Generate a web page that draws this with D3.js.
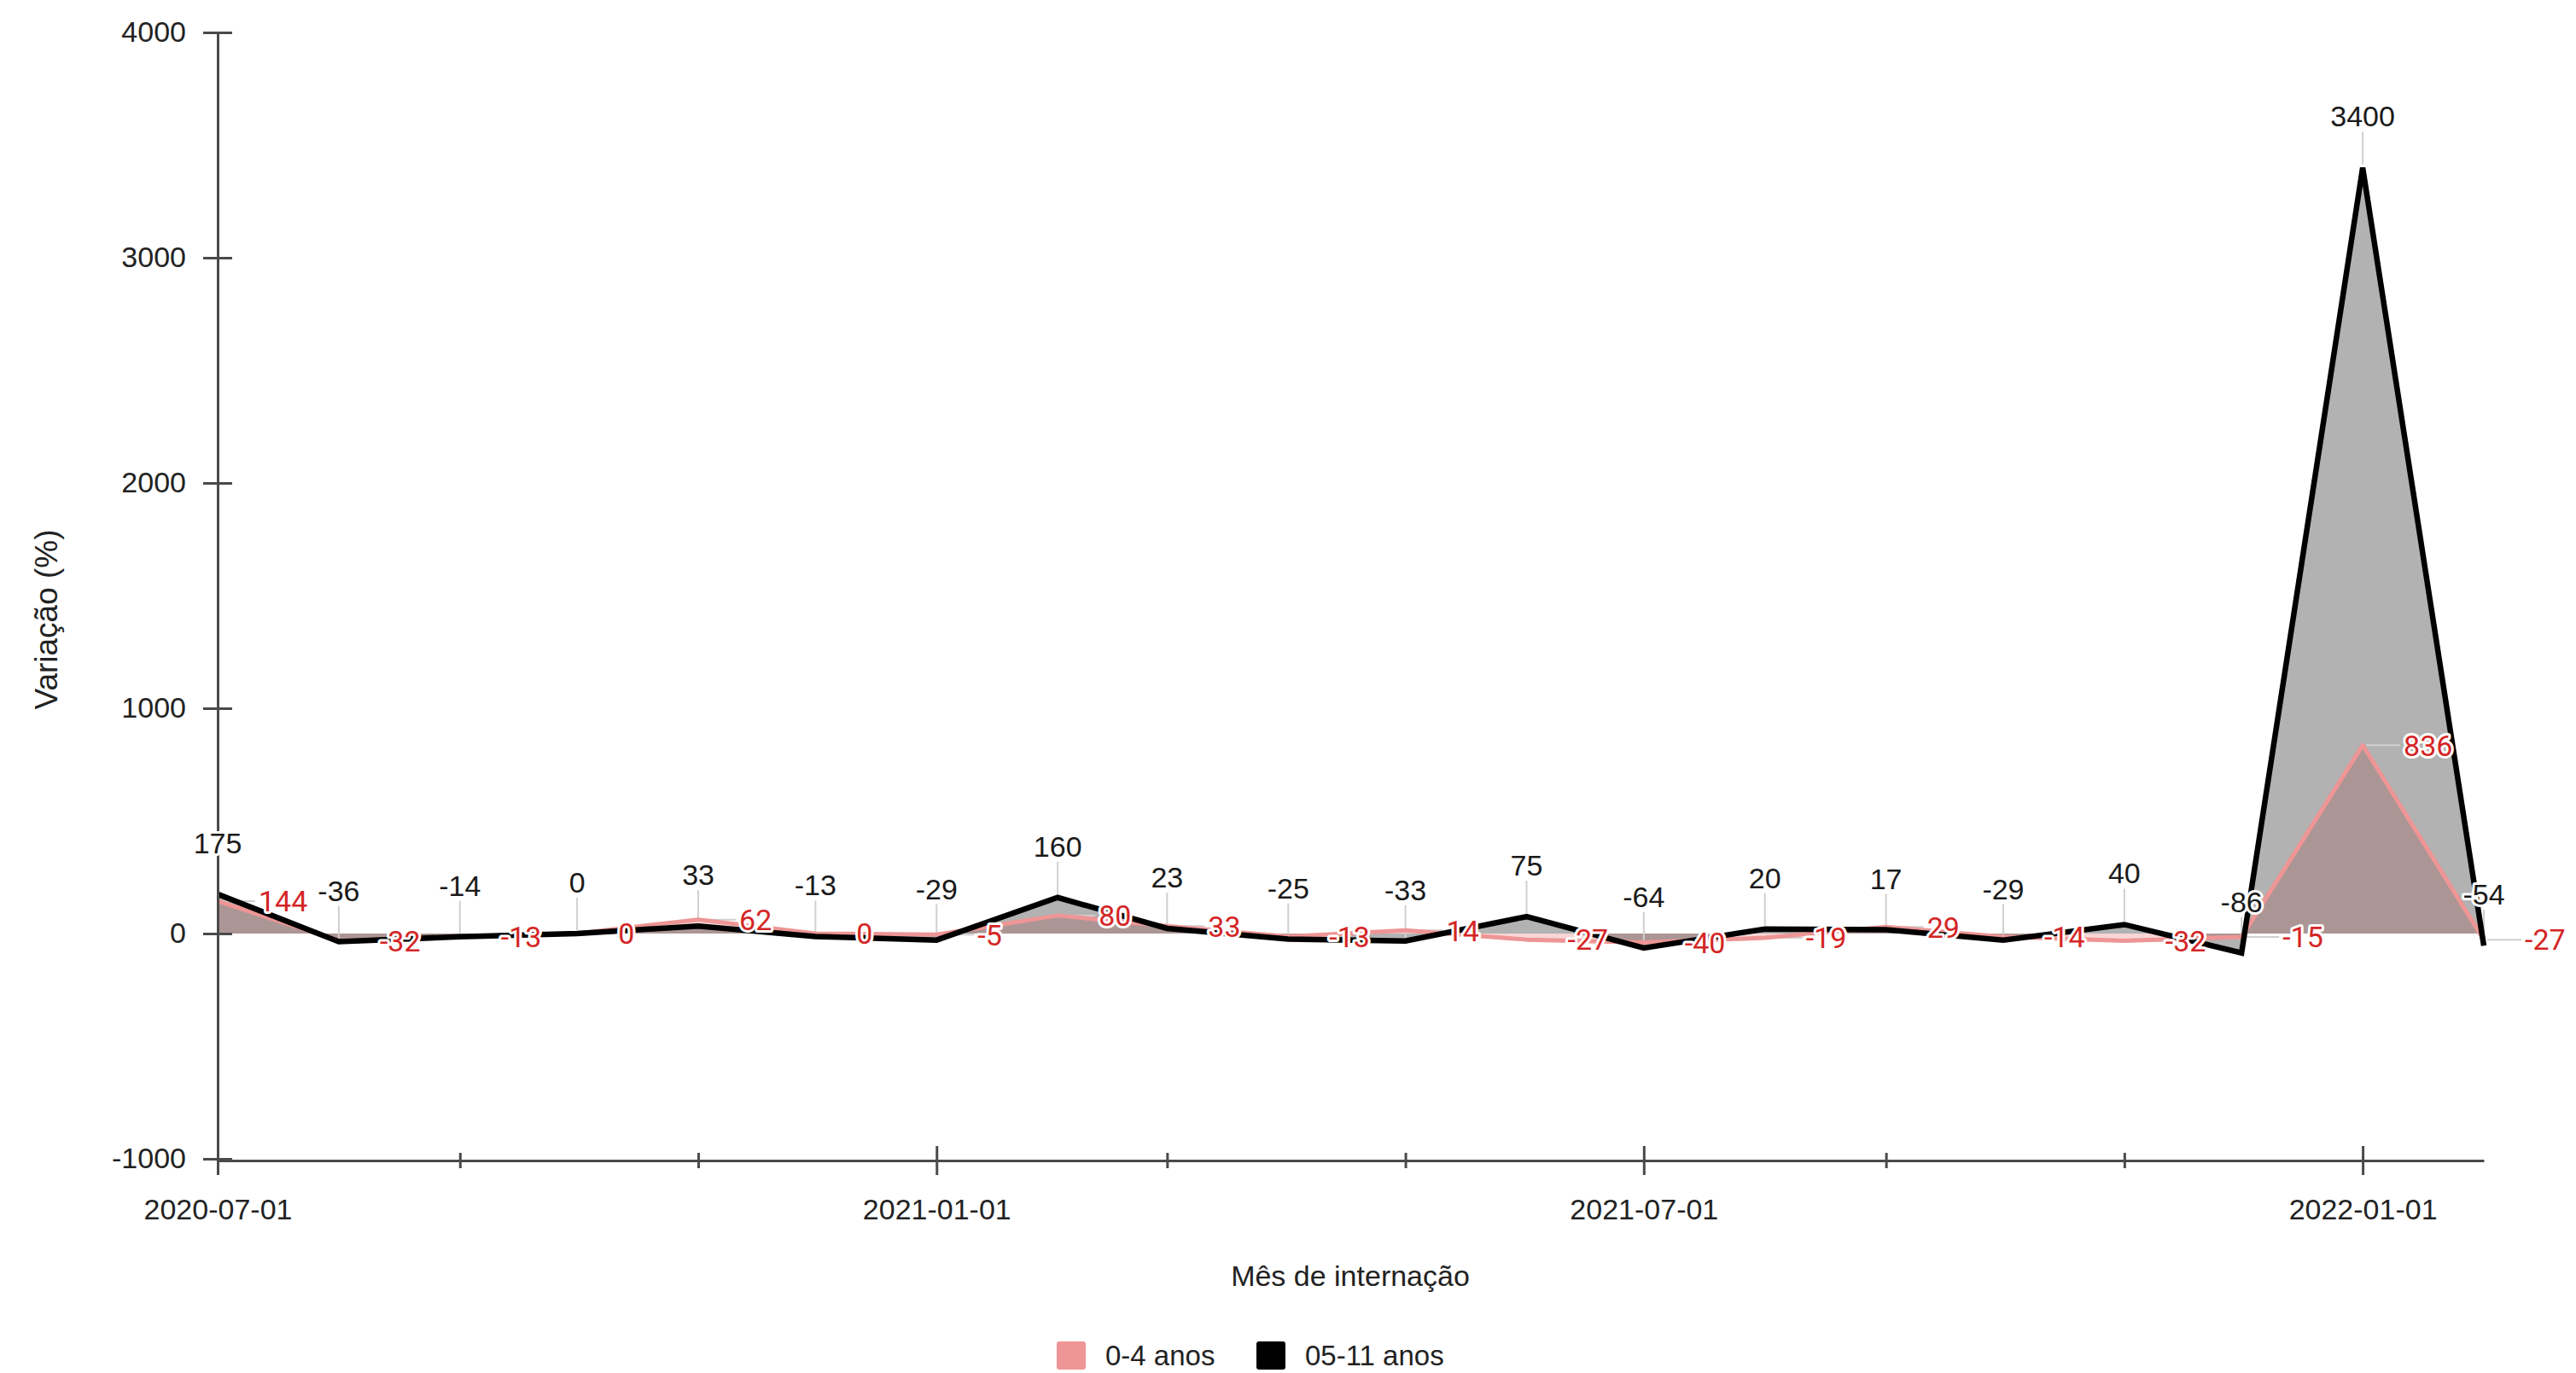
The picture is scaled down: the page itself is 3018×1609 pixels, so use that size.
<!DOCTYPE html>
<html>
<head>
<meta charset="utf-8">
<script src="https://cdn.jsdelivr.net/npm/d3@7"></script>
<style>
  html, body { margin: 0; padding: 0; background: #fff; }
  svg { display: block; }
</style>
</head>
<body>
<svg id="chart" width="3018" height="1609"></svg>
<script>
// ---- data ----
const months = ["2020-07-01","2020-08-01","2020-09-01","2020-10-01","2020-11-01","2020-12-01",
  "2021-01-01","2021-02-01","2021-03-01","2021-04-01","2021-05-01","2021-06-01",
  "2021-07-01","2021-08-01","2021-09-01","2021-10-01","2021-11-01","2021-12-01",
  "2022-01-01","2022-02-01"];
const series04 = [144,-32,-13,0,62,0,-5,80,33,-13,14,-27,-40,-19,29,-14,-32,-15,836,-27];
const series0511 = [175,-36,-14,0,33,-13,-29,160,23,-25,-33,75,-64,20,17,-29,40,-86,3400,-54];
const seriesNames = ["0-4 anos", "05-11 anos"];
const yTicks = [-1000, 0, 1000, 2000, 3000, 4000];
const xTickLabels = ["2020-07-01", "2021-01-01", "2021-07-01", "2022-01-01"];
const xTitle = "Mês de internação";
const yTitle = "Variação (%)";

// ---- setup ----
const svg = d3.select("#chart");
const parse = d3.utcParse("%Y-%m-%d");
const fmt = d3.utcFormat("%Y-%m-%d");
const dates = months.map(parse);
const data = dates.map((d, i) => ({date: d, a: series04[i], b: series0511[i]}));

const x = d3.scaleUtc().domain([dates[0], dates[dates.length - 1]]).range([255, 2910]);
const y = d3.scaleLinear().domain([-1000, 4000]).range([1358, 38]);

const pink = "#ee9595";
const redText = "#d42525";
const axisCol = "#4a4a4a";
const labelFont = "Liberation Sans, Arial, sans-serif";

// areas
const areaA = d3.area().x(d => x(d.date)).y0(y(0)).y1(d => y(d.a));
const areaB = d3.area().x(d => x(d.date)).y0(y(0)).y1(d => y(d.b));
const lineA = d3.line().x(d => x(d.date)).y(d => y(d.a));
const lineB = d3.line().x(d => x(d.date)).y(d => y(d.b));

svg.append("path").datum(data).attr("d", areaA)
  .attr("fill", "#e88888").attr("fill-opacity", 0.34);
svg.append("path").datum(data).attr("d", areaB)
  .attr("fill", "#000").attr("fill-opacity", 0.3);

// leader lines
const leaders = svg.append("g").attr("stroke", "#d0d0d0").attr("stroke-width", 2);
leaders.selectAll("line.v").data(data).join("line").attr("class", "v")
  .attr("x1", d => x(d.date)).attr("x2", d => x(d.date))
  .attr("y1", d => y(d.b) - 4).attr("y2", d => y(d.b) - 42);
leaders.selectAll("line.h").data(data).join("line").attr("class", "h")
  .attr("x1", d => x(d.date) + 4).attr("x2", d => x(d.date) + 44)
  .attr("y1", d => y(d.a)).attr("y2", d => y(d.a));

// lines
svg.append("path").datum(data).attr("d", lineA)
  .attr("fill", "none").attr("stroke", pink).attr("stroke-width", 5)
  .attr("stroke-linejoin", "round");
svg.append("path").datum(data).attr("d", lineB)
  .attr("fill", "none").attr("stroke", "#000").attr("stroke-width", 6.5)
  .attr("stroke-linejoin", "miter");

// y axis
const yAxis = d3.axisLeft(y).tickValues(yTicks).tickSizeInner(17).tickSizeOuter(0).tickPadding(20)
  .tickFormat(d => String(d));
const gy = svg.append("g").attr("transform", "translate(255,0)").call(yAxis);
gy.select(".domain").attr("stroke", axisCol).attr("stroke-width", 3);
gy.selectAll(".tick line").attr("stroke", axisCol).attr("stroke-width", 3).attr("x1", 17);
gy.selectAll(".tick text").attr("font-family", labelFont).attr("font-size", 34).attr("fill", "#222");

// x axis
const xAxis = d3.axisBottom(x).ticks(d3.utcMonth.every(2)).tickSizeInner(17).tickSizeOuter(0).tickPadding(28)
  .tickFormat(d => xTickLabels.includes(fmt(d)) ? fmt(d) : "");
const gx = svg.append("g").attr("transform", "translate(0,1360)").call(xAxis);
gx.select(".domain").attr("stroke", axisCol).attr("stroke-width", 3);
gx.selectAll(".tick line").attr("stroke", axisCol).attr("stroke-width", 3)
  .each(function(d) {
    const major = xTickLabels.includes(fmt(d));
    d3.select(this).attr("y1", major ? -17 : -9).attr("y2", major ? 17 : 9);
  });
gx.selectAll(".tick text").attr("font-family", labelFont).attr("font-size", 34).attr("fill", "#222");

// data labels: 05-11 (black) above
svg.append("g").selectAll("text").data(data).join("text")
  .attr("x", d => x(d.date)).attr("y", d => y(d.b) - 48)
  .attr("text-anchor", "middle")
  .attr("font-family", labelFont).attr("font-size", 34).attr("fill", "#1a1a1a")
  .attr("stroke", "#fff").attr("stroke-width", 6).attr("paint-order", "stroke").attr("stroke-linejoin", "round")
  .text(d => d.b);

// data labels: 0-4 (red) to the right
svg.append("g").selectAll("text").data(data).join("text")
  .attr("x", d => x(d.date) + 48).attr("y", d => y(d.a)).attr("dy", "0.36em")
  .attr("text-anchor", "start")
  .attr("font-family", "Roboto, sans-serif").attr("font-size", 34).attr("fill", redText)
  .attr("stroke", "#fff").attr("stroke-width", 6).attr("paint-order", "stroke").attr("stroke-linejoin", "round")
  .text(d => d.a);

// axis titles
svg.append("text").attr("x", 1582).attr("y", 1507).attr("text-anchor", "middle")
  .attr("font-family", labelFont).attr("font-size", 34).attr("fill", "#222").text(xTitle);
svg.append("text").attr("transform", "translate(67,726) rotate(-90)").attr("text-anchor", "middle")
  .attr("font-family", labelFont).attr("font-size", 37).attr("fill", "#222").text(yTitle);

// legend
const legendColors = [pink, "#000"];
const legendX = [1238, 1472];
const lg = svg.append("g");
seriesNames.forEach((name, i) => {
  lg.append("rect").attr("x", legendX[i]).attr("y", 1572).attr("width", 34).attr("height", 33)
    .attr("rx", 3).attr("fill", legendColors[i]);
  lg.append("text").attr("x", legendX[i] + 57).attr("y", 1600)
    .attr("font-family", labelFont).attr("font-size", 33).attr("fill", "#222").text(name);
});
</script>
</body>
</html>
